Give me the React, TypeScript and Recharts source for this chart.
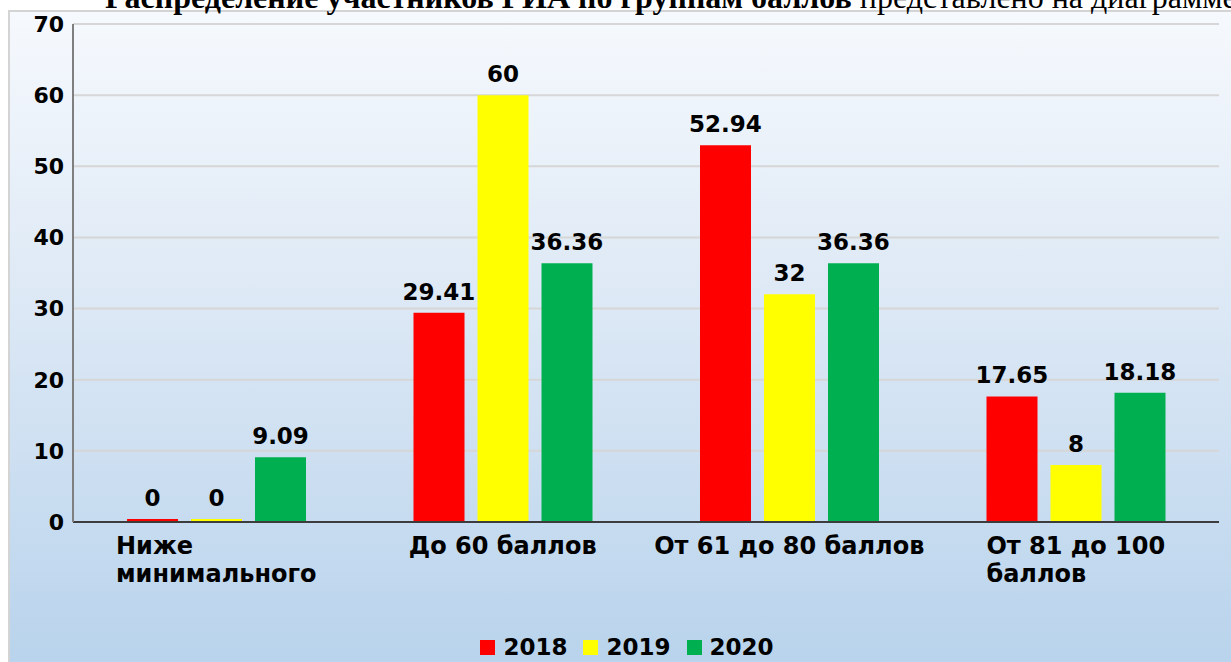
import React from 'react'
import {
  BarChart, Bar, XAxis, YAxis, CartesianGrid, Legend, LabelList,
} from 'recharts'

const categories = ['Ниже минимального', 'До 60 баллов', 'От 61 до 80 баллов', 'От 81 до 100 баллов']
// how each category label wraps under the axis
const categoryLines = [
  ['Ниже', 'минимального'],
  ['До 60 баллов'],
  ['От 61 до 80 баллов'],
  ['От 81 до 100', 'баллов'],
]
const values2018 = [0, 29.41, 52.94, 17.65]
const values2019 = [0, 60, 32, 8]
const values2020 = [9.09, 36.36, 36.36, 18.18]
const yTicks = [0, 10, 20, 30, 40, 50, 60, 70]

const seriesList = [
  { key: 'y2018', name: '2018', color: '#FF0000' },
  { key: 'y2019', name: '2019', color: '#FFFF00' },
  { key: 'y2020', name: '2020', color: '#00B050' },
]

const data = categories.map((c, i) => ({
  category: c,
  y2018: values2018[i],
  y2019: values2019[i],
  y2020: values2020[i],
}))

const FONT = '"DejaVu Sans", Verdana, sans-serif'
const TICK_FONT_SIZE = 24

let measureCtx: CanvasRenderingContext2D | null = null
function textWidth(s: string) {
  if (!measureCtx) measureCtx = document.createElement('canvas').getContext('2d')
  if (!measureCtx) return s.length * 14
  measureCtx.font = `bold ${TICK_FONT_SIZE}px ${FONT}`
  return measureCtx.measureText(s).width
}

// wrapped lines are left aligned, the block is centred on the category
const CategoryTick = ({ x, y, payload }: any) => {
  const lines = categoryLines[payload.index] ?? [String(payload.value)]
  const w = Math.max(...lines.map(textWidth))
  const left = x - w / 2
  return (
    <text x={left} y={y} fontFamily={FONT} fontSize={TICK_FONT_SIZE} fontWeight="bold" fill="#000">
      {lines.map((l, i) => (
        <tspan key={i} x={left} dy={i === 0 ? 24 : 28}>{l}</tspan>
      ))}
    </text>
  )
}

const LegendContent = () => (
  <div style={{
    height: 30, display: 'flex', justifyContent: 'center', alignItems: 'center',
    paddingLeft: 38, fontFamily: FONT, fontWeight: 'bold', fontSize: 23, color: '#000',
  }}>
    {seriesList.map(s => (
      <div key={s.key} style={{ display: 'flex', alignItems: 'center', marginRight: 16 }}>
        <span style={{ width: 15, height: 15, background: s.color, display: 'inline-block', marginRight: 8 }} />
        <span>{s.name}</span>
      </div>
    ))}
  </div>
)

export default function App() {
  return (
    <div style={{ position: 'fixed', left: 0, top: 0, width: 1231, height: 662, overflow: 'hidden', background: '#fff' }}>
      <div style={{
        position: 'absolute', left: 8, top: 10, width: 1240, height: 660,
        boxSizing: 'border-box', border: '2px solid #d4d4d4',
        background: 'linear-gradient(to bottom, #f6f9fd 0%, #dce8f5 45%, #b8d3ec 100%)',
      }}>
        <BarChart
          width={1236}
          height={656}
          data={data}
          margin={{ top: 12, right: 27, bottom: 6, left: 3 }}
          barSize={51}
          barGap={13}
        >
          <CartesianGrid vertical={false} stroke="#d6d6d6" strokeWidth={2} />
          <XAxis
            dataKey="category"
            height={110}
            tickLine={false}
            interval={0}
            axisLine={{ stroke: '#3c3c3c', strokeWidth: 2 }}
            tick={<CategoryTick />}
          />
          <YAxis
            width={60}
            domain={[0, 70]}
            ticks={yTicks}
            interval={0}
            tickLine={false}
            tickSize={0}
            tickMargin={9}
            axisLine={{ stroke: '#7f7f7f', strokeWidth: 2 }}
            tick={{ fontSize: 22, fontWeight: 'bold', fill: '#000', fontFamily: FONT }}
          />
          <YAxis
            yAxisId="right"
            orientation="right"
            width={0}
            domain={[0, 70]}
            tick={false}
            tickLine={false}
            axisLine={{ stroke: '#505050', strokeWidth: 2 }}
          />
          <Legend verticalAlign="bottom" content={<LegendContent />} />
          {seriesList.map(s => (
            <Bar key={s.key} dataKey={s.key} name={s.name} fill={s.color} minPointSize={3} isAnimationActive={false}>
              <LabelList
                dataKey={s.key}
                position="top"
                offset={13}
                style={{ fontSize: 23, fontWeight: 'bold', fill: '#000', fontFamily: FONT }}
              />
            </Bar>
          ))}
        </BarChart>
      </div>
      <div style={{
        position: 'absolute', left: 105, top: -19, whiteSpace: 'nowrap',
        fontFamily: '"Liberation Serif", "Times New Roman", serif', fontSize: 32, lineHeight: '32px', color: '#000',
      }}>
        <b>Распределение участников ГИА по группам баллов</b> представлено на диаграмме
      </div>
    </div>
  )
}
